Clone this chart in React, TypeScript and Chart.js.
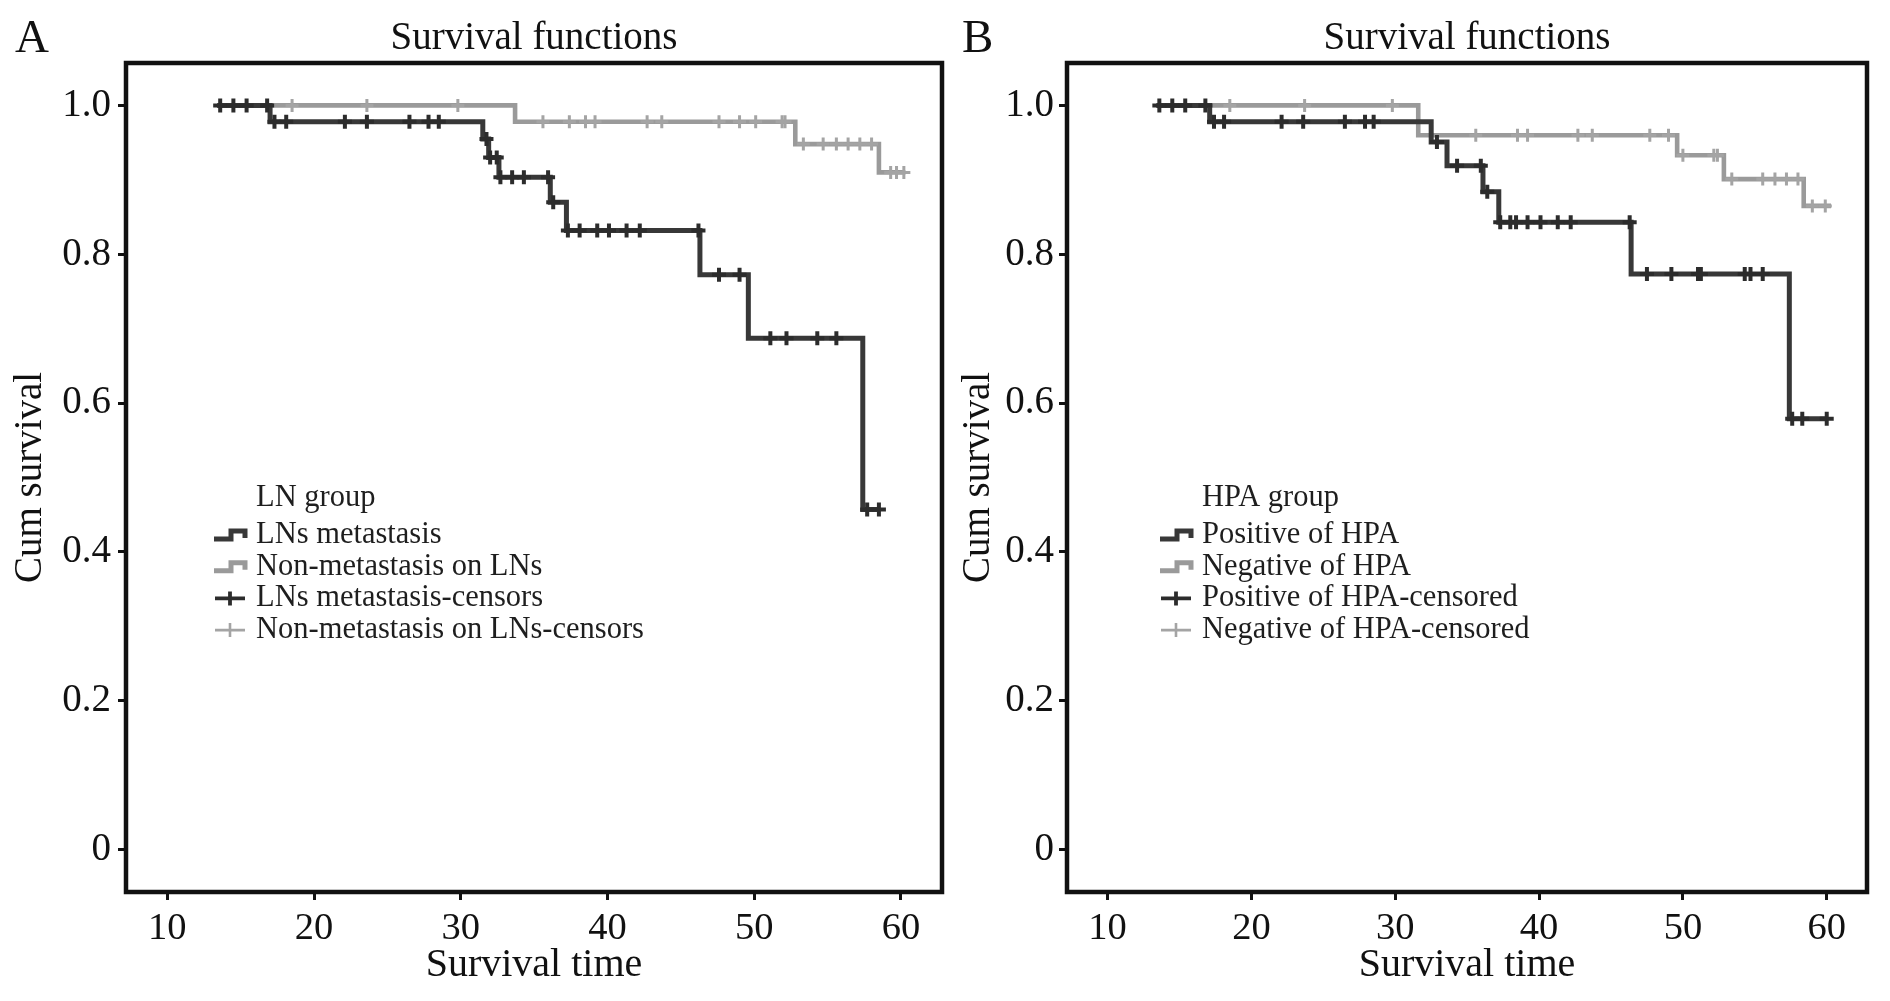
import React, { useEffect, useRef } from 'react';
import { Chart, registerables } from 'chart.js';

Chart.register(...registerables);

const FONT = '"Liberation Serif", "Times New Roman", Times, serif';

// ---------- shared axis data ----------
const xTickValues = [10, 20, 30, 40, 50, 60];
const yTickValues = [0, 0.2, 0.4, 0.6, 0.8, 1.0];
const yTickLabels = ['0', '0.2', '0.4', '0.6', '0.8', '1.0'];
const xRange = [7.18, 62.8];
const yRange = [-0.057, 1.057];

const chartTitle = 'Survival functions';
const xAxisTitle = 'Survival time';
const yAxisTitle = 'Cum survival';

// ---------- Panel A : LN group ----------
const aLegendTitle = 'LN group';
const aLabels = ['LNs metastasis', 'Non-metastasis on LNs', 'LNs metastasis-censors', 'Non-metastasis on LNs-censors'];

const aMetTimes = [13.4, 17.0, 31.5, 31.9, 32.6, 36.1, 37.2, 46.3, 49.6, 57.4, 58.5];
const aMetSurv = [1.0, 0.978, 0.955, 0.93, 0.9035, 0.87, 0.832, 0.7725, 0.687, 0.457, 0.457];
const aMetCensors = [13.6, 14.5, 15.4, 16.8, 17.3, 18.1, 22.1, 23.6, 26.5, 27.8, 28.5, 31.75, 32.0, 32.45, 32.7, 33.5, 34.3, 35.95, 36.3, 37.3, 38.1, 39.3, 40.1, 41.3, 42.2, 46.2, 47.6, 49.0, 51.1, 52.2, 54.3, 55.6, 57.7, 58.5];

const aNonTimes = [13.4, 33.7, 52.8, 58.5, 60.3];
const aNonSurv = [1.0, 0.978, 0.948, 0.91, 0.91];
const aNonCensors = [18.5, 23.6, 29.8, 35.6, 37.4, 38.5, 39.15, 42.7, 43.7, 47.6, 49.0, 50.1, 51.9, 52.1, 53.35, 54.7, 55.6, 56.4, 57.2, 58.0, 59.3, 59.7, 60.2];

// ---------- Panel B : HPA group ----------
const bLegendTitle = 'HPA group';
const bLabels = ['Positive of HPA', 'Negative of HPA', 'Positive of HPA-censored', 'Negative of HPA-censored'];

const bPosTimes = [13.4, 17.1, 32.5, 33.6, 36.1, 37.2, 46.4, 57.4, 60.0];
const bPosSurv = [1.0, 0.978, 0.951, 0.919, 0.884, 0.843, 0.7735, 0.579, 0.579];
const bPosCensors = [13.6, 14.5, 15.4, 16.8, 17.4, 18.1, 22.1, 23.6, 26.5, 27.9, 28.5, 32.9, 34.3, 35.95, 36.4, 37.3, 38.0, 38.4, 39.2, 40.1, 41.3, 42.2, 46.3, 47.5, 49.2, 51.05, 51.25, 54.3, 54.7, 55.55, 57.6, 58.3, 60.0];

const bNegTimes = [13.4, 31.6, 49.6, 52.85, 58.4, 60.3];
const bNegSurv = [1.0, 0.96, 0.933, 0.901, 0.865, 0.865];
const bNegCensors = [18.5, 23.7, 29.8, 35.6, 38.5, 39.2, 42.7, 43.7, 47.7, 49.0, 50.0, 52.15, 52.4, 53.4, 55.55, 56.4, 57.2, 58.0, 59.0, 59.9];

// ---------- styling ----------
const DARK = '#383838';
const DARK_MARK = '#2c2c2c';
const LIGHT = '#9a9a9a';
const LIGHT_MARK = '#a4a4a4';
const INK = '#111111';

function stepAt(times: number[], surv: number[], t: number): number {
  let v = surv[0];
  for (let i = 0; i < times.length; i++) {
    if (times[i] <= t) v = surv[i];
  }
  return v;
}

interface PanelSpec {
  letter: string;
  letterX: number;
  legendTitle: string;
  labels: string[];
  darkTimes: number[];
  darkSurv: number[];
  darkCensors: number[];
  lightTimes: number[];
  lightSurv: number[];
  lightCensors: number[];
  yAxisWidth: number;
  yTitlePad: number;
  yTickPad: number;
  padRight: number;
  symDx: number;
  textDx: number;
}

function buildConfig(p: PanelSpec): any {
  const lineDs = (label: string, times: number[], surv: number[], color: string, width: number, order: number) => ({
    type: 'line',
    label,
    data: times.map((t, i) => ({ x: t, y: surv[i] })),
    stepped: true,
    borderColor: color,
    borderWidth: width,
    pointRadius: 0,
    fill: false,
    order,
  });
  const censorDs = (label: string, cens: number[], times: number[], surv: number[], color: string, r: number, bw: number, order: number) => ({
    type: 'scatter',
    label,
    data: cens.map((t) => ({ x: t, y: stepAt(times, surv, t) })),
    showLine: false,
    pointStyle: 'cross',
    pointRadius: r,
    pointBorderColor: color,
    pointBackgroundColor: color,
    pointBorderWidth: bw,
    order,
  });

  const framePlugin = {
    id: 'frame' + p.letter,
    afterDatasetsDraw(chart: any) {
      const { left, top, right, bottom } = chart.chartArea;
      const ctx = chart.ctx;
      ctx.save();
      ctx.strokeStyle = INK;
      ctx.lineWidth = 4.5;
      ctx.strokeRect(left, top, right - left, bottom - top);
      ctx.restore();
    },
  };

  const decoPlugin = {
    id: 'deco' + p.letter,
    afterDraw(chart: any) {
      const ctx = chart.ctx;
      const { left } = chart.chartArea;
      ctx.save();
      // panel letter
      ctx.fillStyle = INK;
      ctx.font = `47px ${FONT}`;
      ctx.textAlign = 'left';
      ctx.textBaseline = 'middle';
      ctx.fillText(p.letter, p.letterX, 40);
      // legend
      ctx.font = `30.5px ${FONT}`;
      ctx.fillStyle = '#1e1e1e';
      ctx.fillText(p.legendTitle, left + p.textDx, 498);
      const kinds = ['line', 'line', 'cross', 'cross'];
      const colors = [DARK, LIGHT, DARK_MARK, LIGHT_MARK];
      p.labels.forEach((lab, i) => {
        const y = 535 + i * 31.7;
        const x0 = left + p.symDx;
        ctx.strokeStyle = colors[i];
        if (kinds[i] === 'line') {
          ctx.lineWidth = 5;
          ctx.beginPath();
          ctx.moveTo(x0, y + 4);
          ctx.lineTo(x0 + 17, y + 4);
          ctx.lineTo(x0 + 17, y - 4);
          ctx.lineTo(x0 + 31, y - 4);
          ctx.lineTo(x0 + 31, y + 3);
          ctx.stroke();
        } else {
          ctx.lineWidth = i === 2 ? 3.8 : 2.6;
          ctx.beginPath();
          ctx.moveTo(x0 + 1, y);
          ctx.lineTo(x0 + 31, y);
          ctx.moveTo(x0 + 16, y - 7);
          ctx.lineTo(x0 + 16, y + 7);
          ctx.stroke();
        }
        ctx.fillStyle = '#1e1e1e';
        ctx.fillText(lab, left + p.textDx, y);
      });
      ctx.restore();
    },
  };

  return {
    data: {
      datasets: [
        censorDs(p.labels[2], p.darkCensors, p.darkTimes, p.darkSurv, DARK_MARK, 7, 4, 0),
        lineDs(p.labels[0], p.darkTimes, p.darkSurv, DARK, 5, 1),
        censorDs(p.labels[3], p.lightCensors, p.lightTimes, p.lightSurv, LIGHT_MARK, 6.5, 3, 2),
        lineDs(p.labels[1], p.lightTimes, p.lightSurv, LIGHT, 4.6, 3),
      ],
    },
    options: {
      animation: false,
      responsive: false,
      devicePixelRatio: 1,
      layout: { padding: { left: 0, right: p.padRight, top: 0, bottom: 0 } },
      plugins: {
        legend: { display: false },
        tooltip: { enabled: false },
        title: {
          display: true,
          text: chartTitle,
          fullSize: false,
          color: INK,
          font: { family: FONT, size: 39, weight: 'normal' },
          padding: { top: 15, bottom: 1.2 },
        },
      },
      scales: {
        x: {
          type: 'linear',
          min: xRange[0],
          max: xRange[1],
          afterBuildTicks: (s: any) => {
            s.ticks = xTickValues.map((v) => ({ value: v }));
          },
          afterFit: (s: any) => {
            s.height = 109;
          },
          border: { display: false },
          grid: { display: true, drawOnChartArea: false, drawTicks: true, tickLength: 8, color: INK, lineWidth: 3 },
          ticks: {
            autoSkip: false,
            maxRotation: 0,
            padding: 6,
            color: INK,
            font: { family: FONT, size: 38.5 },
            callback: (v: number) => String(v),
          },
          title: {
            display: true,
            text: xAxisTitle,
            color: INK,
            font: { family: FONT, size: 40 },
            padding: { top: 0, bottom: 12 },
          },
        },
        y: {
          type: 'linear',
          min: yRange[0],
          max: yRange[1],
          afterBuildTicks: (s: any) => {
            s.ticks = yTickValues.map((v) => ({ value: v }));
          },
          afterFit: (s: any) => {
            s.width = p.yAxisWidth;
          },
          border: { display: false },
          grid: { display: true, drawOnChartArea: false, drawTicks: true, tickLength: 8, color: INK, lineWidth: 3 },
          ticks: {
            autoSkip: false,
            padding: p.yTickPad,
            color: INK,
            font: { family: FONT, size: 39 },
            callback: (v: number) => {
              const i = yTickValues.indexOf(v);
              return i >= 0 ? yTickLabels[i] : '';
            },
          },
          title: {
            display: true,
            text: yAxisTitle,
            color: INK,
            font: { family: FONT, size: 39 },
            padding: { top: p.yTitlePad, bottom: 0 },
          },
        },
      },
    },
    plugins: [framePlugin, decoPlugin],
  };
}

const panelA: PanelSpec = {
  letter: 'A',
  letterX: 15,
  legendTitle: aLegendTitle,
  labels: aLabels,
  darkTimes: aMetTimes,
  darkSurv: aMetSurv,
  darkCensors: aMetCensors,
  lightTimes: aNonTimes,
  lightSurv: aNonSurv,
  lightCensors: aNonCensors,
  yAxisWidth: 126,
  yTitlePad: 7.6,
  yTickPad: 7,
  padRight: 13,
  symDx: 88,
  textDx: 130,
};

const panelB: PanelSpec = {
  letter: 'B',
  letterX: 12,
  legendTitle: bLegendTitle,
  labels: bLabels,
  darkTimes: bPosTimes,
  darkSurv: bPosSurv,
  darkCensors: bPosCensors,
  lightTimes: bNegTimes,
  lightSurv: bNegSurv,
  lightCensors: bNegCensors,
  yAxisWidth: 117,
  yTitlePad: 5.6,
  yTickPad: 5,
  padRight: 23,
  symDx: 93,
  textDx: 135,
};

function Panel({ spec, left, width }: { spec: PanelSpec; left: number; width: number }) {
  const ref = useRef<HTMLCanvasElement | null>(null);
  useEffect(() => {
    if (!ref.current) return;
    const chart = new Chart(ref.current, buildConfig(spec));
    return () => chart.destroy();
  }, [spec]);
  return (
    <canvas
      ref={ref}
      width={width}
      height={1001}
      style={{ position: 'absolute', left, top: 0, width, height: 1001 }}
    />
  );
}

export default function App() {
  return (
    <div style={{ position: 'absolute', left: 0, top: 0, width: 1890, height: 1001, background: '#ffffff', overflow: 'hidden' }}>
      <Panel spec={panelA} left={0} width={955} />
      <Panel spec={panelB} left={950} width={940} />
    </div>
  );
}
